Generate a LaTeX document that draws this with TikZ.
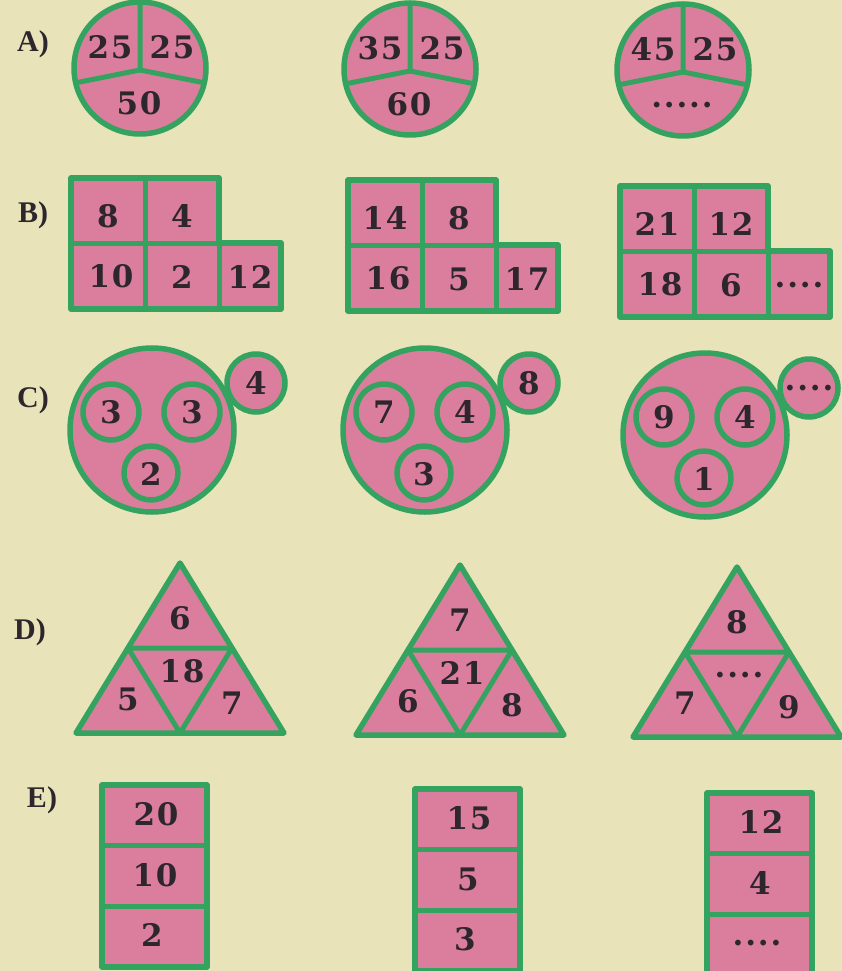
\documentclass[tikz,border=0pt]{standalone}
\usepackage{fontspec}
\setmainfont{Liberation Serif}
\newfontfamily\numfont[LetterSpace=6]{DejaVu Serif}
\definecolor{bg}{RGB}{233,227,186}
\definecolor{pk}{RGB}{219,126,158}
\definecolor{gr}{RGB}{52,163,96}
\definecolor{ink}{RGB}{45,38,45}
\tikzset{
  cell/.style={draw=gr, fill=pk, line width=5.5pt, line join=round},
  gline/.style={draw=gr, line width=5pt, line cap=round},
  num/.style={font=\numfont\bfseries\fontsize{31}{33}\selectfont, text=ink, inner sep=0pt},
  lab/.style={font=\bfseries\fontsize{30}{32}\selectfont, text=ink, inner sep=0pt}
}
% Row A: pie circle
\newcommand\pieA[6]{%
  \begin{scope}[shift={(#1,#2)}]
    \filldraw[cell] (0,0) circle[radius=66];
    \draw[gline] (0,-66) -- (0,2) -- (167:65);
    \draw[gline] (0,2) -- (13:65);
    \node[num] (#3a) at (-30,-21) {#4};
    \node[num] (#3b) at (32,-21) {#5};
    \node[num] (#3c) at (-1,35) {#6};
  \end{scope}}
% Row B: L shape
\newcommand\lshapeB[8]{%
  \begin{scope}[shift={(#1,#2)}]
    \filldraw[cell] (0,0) -- (148,0) -- (148,65) -- (210,65) -- (210,131) -- (0,131) -- cycle;
    \draw[gline] (0,65) -- (148,65);
    \draw[gline] (74,0) -- (74,131);
    \draw[gline] (148,65) -- (148,131);
    \node[num] (#3a) at (37,38) {#4};
    \node[num] (#3b) at (111,38) {#5};
    \node[num] (#3c) at (40,98) {#6};
    \node[num] (#3d) at (111,99) {#7};
    \node[num] (#3e) at (179,99) {#8};
  \end{scope}}
% Row C: circles
\newcommand\ringC[7]{%
  \begin{scope}[shift={(#1,#2)}]
    \filldraw[cell] (0,0) circle[radius=82];
    \filldraw[cell] (-41,-18) circle[radius=28];
    \filldraw[cell] (40,-18) circle[radius=28];
    \filldraw[cell] (-1,43) circle[radius=27];
    \filldraw[cell] (104,-47) circle[radius=29];
    \node[num] (#3a) at (-41,-18) {#4};
    \node[num] (#3b) at (40,-18) {#5};
    \node[num] (#3c) at (-1,44) {#6};
    \node[num] (#3d) at (104,-47) {#7};
  \end{scope}}
% Row D: triangle
\newcommand\triD[7]{%
  \begin{scope}[shift={(#1,#2)}]
    \filldraw[cell] (0,0) -- (104,170) -- (-104,170) -- cycle;
    \draw[gline, line join=round] (-52,85) -- (52,85) -- (0,170) -- cycle;
    \node[num] (#3a) at (0,55) {#4};
    \node[num] (#3b) at (2,108) {#5};
    \node[num] (#3c) at (-52,136) {#6};
    \node[num] (#3d) at (52,140) {#7};
  \end{scope}}
% Row E: column
\newcommand\colE[6]{%
  \begin{scope}[shift={(#1,#2)}]
    \filldraw[cell] (0,0) rectangle (105,182);
    \draw[gline] (0,60) -- (105,60);
    \draw[gline] (0,121) -- (105,121);
    \node[num] (#3a) at (54,29) {#4};
    \node[num] (#3b) at (53,90) {#5};
    \node[num] (#3c) at (50,150) {#6};
  \end{scope}}
\begin{document}
\begin{tikzpicture}[x=1pt,y=-1pt]
\fill[bg] (0,0) rectangle (842,971);
\useasboundingbox (0,0) rectangle (842,971);
\node[lab] (labA) at (33,44) {A)};
\node[lab] (labB) at (33,215) {B)};
\node[lab] (labC) at (33,400) {C)};
\node[lab] (labD) at (30,632) {D)};
\node[lab] (labE) at (42,800) {E)};
\pieA{140}{68}{a1}{25}{25}{50}
\pieA{410}{69}{a2}{35}{25}{60}
\pieA{683}{70}{a3}{45}{25}{.....}
\lshapeB{71}{178}{b1}{8}{4}{10}{2}{12}
\lshapeB{348}{180}{b2}{14}{8}{16}{5}{17}
\lshapeB{620}{186}{b3}{21}{12}{18}{6}{....}
\ringC{152}{430}{c1}{3}{3}{2}{4}
\ringC{425}{430}{c2}{7}{4}{3}{8}
\ringC{705}{435}{c3}{9}{4}{1}{....}
\triD{180}{563}{d1}{6}{18}{5}{7}
\triD{460}{565}{d2}{7}{21}{6}{8}
\triD{737}{567}{d3}{8}{....}{7}{9}
\colE{102}{785}{e1}{20}{10}{2}
\colE{415}{789}{e2}{15}{5}{3}
\colE{707}{793}{e3}{12}{4}{....}
\end{tikzpicture}
\end{document}
